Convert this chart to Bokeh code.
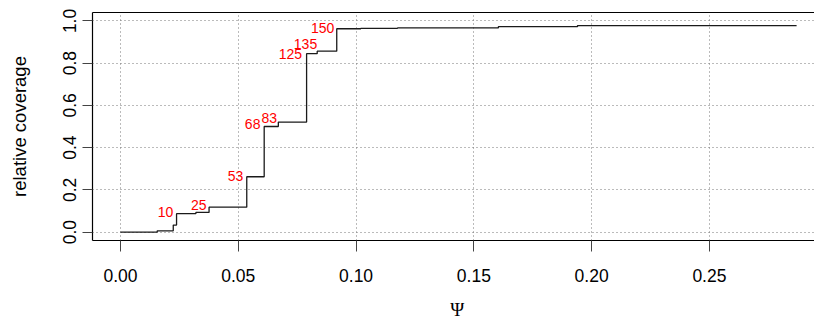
from bokeh.plotting import figure
from bokeh.models import Range1d, FixedTicker, PrintfTickFormatter, LinearAxis, ColumnDataSource
from bokeh.core.properties import value
from bokeh.embed import file_html
from bokeh.resources import INLINE

# step function data: psi threshold -> relative coverage (value after step)
psi = [0.0, 0.0156, 0.0224, 0.0238, 0.032, 0.0376, 0.0536, 0.061, 0.067,
       0.079, 0.0835, 0.0918, 0.102, 0.1176, 0.1604, 0.194, 0.287]
coverage = [0.0, 0.006, 0.033, 0.087, 0.093, 0.118, 0.262, 0.50, 0.521,
            0.845, 0.857, 0.963, 0.965, 0.967, 0.973, 0.978, 0.978]

# annotated steps (label anchor: right edge, vertical middle)
label_psi = [0.0224, 0.0365, 0.0521, 0.0594, 0.0665, 0.0771, 0.0835, 0.0908]
label_cov = [0.094, 0.129, 0.265, 0.511, 0.540, 0.843, 0.890, 0.965]
label_text = ["10", "25", "53", "68", "83", "125", "135", "150"]

x_ticks = [0.0, 0.05, 0.10, 0.15, 0.20, 0.25]
y_ticks = [0.0, 0.2, 0.4, 0.6, 0.8, 1.0]
x_title = "Ψ"
x_title_at = 0.143
y_title = "relative coverage"

FONT = "Liberation Sans"

p = figure(width=814, height=322, output_backend="svg", toolbar_location=None,
           x_range=Range1d(-0.01188, 0.2946), y_range=Range1d(-0.04, 1.04),
           min_border_left=92, min_border_right=0, min_border_top=12, min_border_bottom=82,
           y_axis_label=y_title)
p.outline_line_color = None
p.background_fill_color = "white"
p.border_fill_color = "white"

# grid
for g in (p.xgrid, p.ygrid):
    g.grid_line_color = "#777777"
    g.grid_line_dash = "1 3"
    g.grid_line_width = 1
p.xgrid.ticker = FixedTicker(ticks=x_ticks)
p.ygrid.ticker = FixedTicker(ticks=y_ticks)

# x axis
xa = p.xaxis[0]
xa.ticker = FixedTicker(ticks=x_ticks)
xa.formatter = PrintfTickFormatter(format="%.2f")
xa.major_tick_in = 0
xa.major_tick_out = 11
xa.minor_tick_out = 0
xa.minor_tick_in = 0
xa.major_tick_line_color = "#444444"
xa.axis_line_color = "black"
xa.axis_line_width = 1.2
xa.major_label_standoff = 17
xa.major_label_text_font = FONT
xa.major_label_text_font_size = "17.5px"
xa.major_label_text_color = "black"

# x axis title drawn as the single label of a second, line-less axis
xt = LinearAxis(ticker=FixedTicker(ticks=[x_title_at]),
                major_label_overrides={x_title_at: x_title},
                axis_line_color=None, major_tick_out=0, major_tick_in=0,
                minor_tick_out=0, minor_tick_in=0, major_label_standoff=14,
                major_label_text_font="Liberation Serif",
                major_label_text_font_size="19px", major_label_text_color="black")
p.add_layout(xt, "below")

# y axis
ya = p.yaxis[0]
ya.ticker = FixedTicker(ticks=y_ticks)
ya.formatter = PrintfTickFormatter(format="%.1f")
ya.major_tick_in = 0
ya.major_tick_out = 10
ya.minor_tick_out = 0
ya.minor_tick_in = 0
ya.major_tick_line_color = "#444444"
ya.axis_line_color = "black"
ya.axis_line_width = 1.2
ya.major_label_orientation = "vertical"
ya.major_label_standoff = 6
ya.major_label_text_font = FONT
ya.major_label_text_font_size = "17.5px"
ya.major_label_text_color = "black"
ya.axis_label_standoff = 31
ya.axis_label_text_font = FONT
ya.axis_label_text_font_style = "normal"
ya.axis_label_text_font_size = "18.5px"
ya.axis_label_text_color = "black"

# top border line
top = LinearAxis(ticker=FixedTicker(ticks=[]), axis_line_color="black", axis_line_width=1.2,
                 major_tick_out=0, major_tick_in=0, minor_tick_out=0, minor_tick_in=0,
                 major_label_text_font_size="0px")
p.add_layout(top, "above")

# step line
p.step(psi, coverage, mode="after", line_color="#1a1a1a", line_width=1.3)

# labels
src = ColumnDataSource(dict(x=label_psi, y=label_cov, t=label_text))
p.text(x="x", y="y", text="t", source=src, text_color="#ff0000",
       text_font=value(FONT), text_font_size="14px", text_align="right",
       text_baseline="middle")

open("out.html", "w").write(file_html(p, INLINE))
